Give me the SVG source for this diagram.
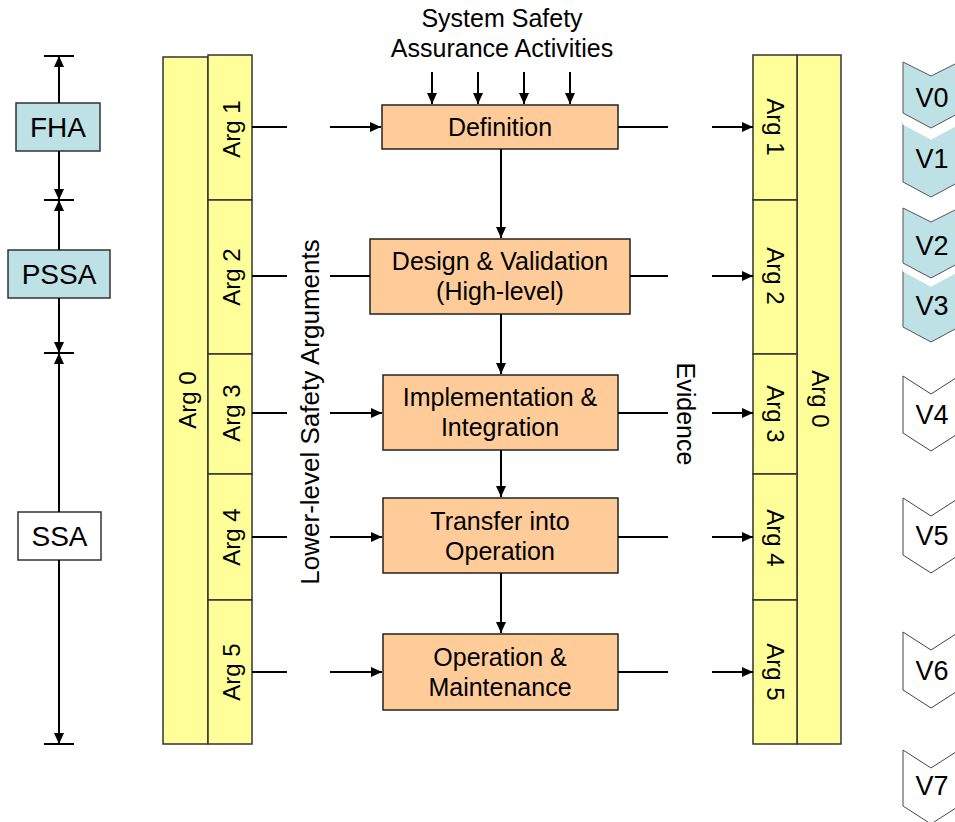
<svg xmlns="http://www.w3.org/2000/svg" width="955" height="822" viewBox="0 0 955 822">
  <style>
    text { font-family: "Liberation Sans", Arial, sans-serif; fill: #000; }
    .t25 { font-size: 25px; text-anchor: middle; }
    .t28 { font-size: 28px; text-anchor: middle; }
    .ver { font-size: 27px; text-anchor: middle; }
    .arg { font-size: 24px; text-anchor: middle; dominant-baseline: central; }
    .rot { font-size: 25px; text-anchor: middle; dominant-baseline: central; }
    .phase { fill: #BDE1E5; stroke: #333; stroke-width: 1.5; }
    .plain { fill: #fff; stroke: #333; stroke-width: 1.5; }
    .col { fill: #FFFF99; stroke: #333; stroke-width: 1.5; }
    .proc { fill: #FFCC99; stroke: #222; stroke-width: 1.5; }
    .ln { stroke: #000; stroke-width: 2; fill: none; }
    .arr { stroke: #000; stroke-width: 2; fill: none; marker-end: url(#ah); }
    .vchev { fill: #BDE1E5; stroke: #555; stroke-width: 1; }
    .vchev-w { fill: #fff; stroke: #444; stroke-width: 1; }
  </style>
  <defs>
    <marker id="ah" markerUnits="userSpaceOnUse" markerWidth="12" markerHeight="10" refX="11" refY="5" orient="auto">
      <path d="M0,0 L11,5 L0,10 z" fill="#000"/>
    </marker>
  </defs>

  <!-- safety assessment timeline -->
  <g id="timeline-ticks">
    <line class="ln" x1="44" y1="56" x2="74" y2="56"/>
    <line class="ln" x1="44" y1="200" x2="74" y2="200"/>
    <line class="ln" x1="44" y1="353" x2="74" y2="353"/>
    <line class="ln" x1="44" y1="744" x2="74" y2="744"/>
  </g>
  <g id="fha">
    <rect class="phase" x="16" y="103" width="84" height="48"/>
    <text class="t28" x="58" y="137">FHA</text>
  </g>
  <g id="pssa">
    <rect class="phase" x="8" y="250" width="102" height="48"/>
    <text class="t28" x="59" y="284">PSSA</text>
  </g>
  <g id="ssa">
    <rect class="plain" x="18" y="512" width="83" height="48"/>
    <text class="t28" x="59.5" y="546">SSA</text>
  </g>

  <!-- left argument columns -->
  <g id="left-arg0">
    <rect class="col" x="163" y="57" width="45" height="687"/>
    <text class="arg" transform="translate(187,400) rotate(-90)">Arg 0</text>
  </g>
  <g id="left-arg1">
    <rect class="col" x="208" y="55" width="44" height="145"/>
    <text class="arg" transform="translate(231,129) rotate(-90)">Arg 1</text>
  </g>
  <g id="left-arg2">
    <rect class="col" x="208" y="200" width="44" height="154"/>
    <text class="arg" transform="translate(231,277) rotate(-90)">Arg 2</text>
  </g>
  <g id="left-arg3">
    <rect class="col" x="208" y="354" width="44" height="120"/>
    <text class="arg" transform="translate(231,413) rotate(-90)">Arg 3</text>
  </g>
  <g id="left-arg4">
    <rect class="col" x="208" y="474" width="44" height="126"/>
    <text class="arg" transform="translate(231,537) rotate(-90)">Arg 4</text>
  </g>
  <g id="left-arg5">
    <rect class="col" x="208" y="600" width="44" height="144"/>
    <text class="arg" transform="translate(231,672) rotate(-90)">Arg 5</text>
  </g>

  <!-- right argument columns -->
  <g id="right-arg0">
    <rect class="col" x="797" y="55" width="44" height="689"/>
    <text class="arg" transform="translate(820,399) rotate(90)">Arg 0</text>
  </g>
  <g id="right-arg1">
    <rect class="col" x="753" y="55" width="44" height="145"/>
    <text class="arg" transform="translate(775,127) rotate(90)">Arg 1</text>
  </g>
  <g id="right-arg2">
    <rect class="col" x="753" y="200" width="44" height="154"/>
    <text class="arg" transform="translate(775,276) rotate(90)">Arg 2</text>
  </g>
  <g id="right-arg3">
    <rect class="col" x="753" y="354" width="44" height="120"/>
    <text class="arg" transform="translate(775,414) rotate(90)">Arg 3</text>
  </g>
  <g id="right-arg4">
    <rect class="col" x="753" y="474" width="44" height="126"/>
    <text class="arg" transform="translate(775,538) rotate(90)">Arg 4</text>
  </g>
  <g id="right-arg5">
    <rect class="col" x="753" y="600" width="44" height="144"/>
    <text class="arg" transform="translate(775,672) rotate(90)">Arg 5</text>
  </g>

  <!-- column captions -->
  <g id="caption-lower">
    <text class="rot" style="font-size:26px" transform="translate(310,412) rotate(-90)">Lower-level Safety Arguments</text>
  </g>
  <g id="caption-evidence">
    <text class="rot" transform="translate(686,414) rotate(90)">Evidence</text>
  </g>
  <g id="caption-activities">
    <text class="t25" x="502" y="27">System Safety</text>
    <text class="t25" x="502" y="57">Assurance Activities</text>
  </g>

  <!-- lifecycle phases -->
  <g id="definition">
    <rect class="proc" x="382" y="105" width="236" height="44"/>
    <text class="t25" x="500" y="136">Definition</text>
  </g>
  <g id="design">
    <rect class="proc" x="370" y="239" width="260" height="75"/>
    <text class="t25" x="500" y="270">Design &amp; Validation</text>
    <text class="t25" x="500" y="300">(High-level)</text>
  </g>
  <g id="implementation">
    <rect class="proc" x="383" y="375" width="235" height="75"/>
    <text class="t25" x="500" y="406">Implementation &amp;</text>
    <text class="t25" x="500" y="436">Integration</text>
  </g>
  <g id="transfer">
    <rect class="proc" x="383" y="498" width="235" height="75"/>
    <text class="t25" x="500" y="530">Transfer into</text>
    <text class="t25" x="500" y="560">Operation</text>
  </g>
  <g id="operation">
    <rect class="proc" x="383" y="634" width="235" height="76"/>
    <text class="t25" x="500" y="666">Operation &amp;</text>
    <text class="t25" x="500" y="696">Maintenance</text>
  </g>

  <!-- version chevrons -->
  <g id="v0">
    <polygon class="vchev" points="903,62 931,76 959,62 959,113 931,128 903,113"/>
    <text class="ver" x="932" y="107">V0</text>
  </g>
  <g id="v1">
    <polygon class="vchev" points="903,123 931,138 959,123 959,182 931,197 903,182"/>
    <polyline points="903,123 931,138 959,123" fill="none" stroke="#fff" stroke-width="3"/>
    <text class="ver" x="932" y="168">V1</text>
  </g>
  <g id="v2">
    <polygon class="vchev" points="903,208 931,222 959,208 959,263 931,278 903,263"/>
    <text class="ver" x="932" y="255">V2</text>
  </g>
  <g id="v3">
    <polygon class="vchev" points="903,270 931,285 959,270 959,327 931,342 903,327"/>
    <polyline points="903,270 931,285 959,270" fill="none" stroke="#fff" stroke-width="3"/>
    <text class="ver" x="932" y="315">V3</text>
  </g>
  <g id="v4">
    <polygon class="vchev-w" points="903,376 931,394 959,376 959,433 931,451 903,433"/>
    <text class="ver" x="932" y="424">V4</text>
  </g>
  <g id="v5">
    <polygon class="vchev-w" points="903,498 931,516 959,498 959,555 931,573 903,555"/>
    <text class="ver" x="932" y="545">V5</text>
  </g>
  <g id="v6">
    <polygon class="vchev-w" points="903,632 931,650 959,632 959,690 931,708 903,690"/>
    <text class="ver" x="932" y="680">V6</text>
  </g>
  <g id="v7">
    <polygon class="vchev-w" points="903,750 931,768 959,750 959,806 931,824 903,806"/>
    <text class="ver" x="932" y="795">V7</text>
  </g>

  <g id="connectors">
    <!-- timeline spans -->
    <line class="arr" x1="59" y1="103" x2="59" y2="56"/>
    <line class="arr" x1="59" y1="151" x2="59" y2="200"/>
    <line class="arr" x1="59" y1="250" x2="59" y2="200"/>
    <line class="arr" x1="59" y1="298" x2="59" y2="353"/>
    <line class="arr" x1="59" y1="512" x2="59" y2="353"/>
    <line class="arr" x1="59" y1="560" x2="59" y2="744"/>

    <!-- assurance activity inputs -->
    <line class="arr" x1="432" y1="72" x2="432" y2="104"/>
    <line class="arr" x1="478" y1="72" x2="478" y2="104"/>
    <line class="arr" x1="524" y1="72" x2="524" y2="104"/>
    <line class="arr" x1="570" y1="72" x2="570" y2="104"/>

    <!-- phase sequence -->
    <line class="arr" x1="501" y1="149" x2="501" y2="238"/>
    <line class="arr" x1="501" y1="314" x2="501" y2="374"/>
    <line class="arr" x1="501" y1="450" x2="501" y2="497"/>
    <line class="arr" x1="501" y1="573" x2="501" y2="633"/>

    <!-- lower-level arguments into phases -->
    <line class="ln" x1="252" y1="127" x2="287" y2="127"/>
    <line class="arr" x1="330" y1="127" x2="381" y2="127"/>
    <line class="ln" x1="252" y1="276" x2="287" y2="276"/>
    <line class="ln" x1="330" y1="276" x2="370" y2="276"/>
    <line class="ln" x1="252" y1="413" x2="287" y2="413"/>
    <line class="arr" x1="330" y1="413" x2="382" y2="413"/>
    <line class="ln" x1="252" y1="537" x2="287" y2="537"/>
    <line class="arr" x1="330" y1="537" x2="382" y2="537"/>
    <line class="ln" x1="252" y1="672" x2="287" y2="672"/>
    <line class="arr" x1="330" y1="672" x2="382" y2="672"/>

    <!-- phase evidence into arguments -->
    <line class="ln" x1="618" y1="127" x2="668" y2="127"/>
    <line class="arr" x1="712" y1="127" x2="753" y2="127"/>
    <line class="ln" x1="630" y1="276" x2="668" y2="276"/>
    <line class="arr" x1="712" y1="276" x2="753" y2="276"/>
    <line class="ln" x1="618" y1="413" x2="668" y2="413"/>
    <line class="arr" x1="712" y1="413" x2="753" y2="413"/>
    <line class="ln" x1="618" y1="537" x2="668" y2="537"/>
    <line class="arr" x1="712" y1="537" x2="753" y2="537"/>
    <line class="ln" x1="618" y1="672" x2="668" y2="672"/>
    <line class="arr" x1="712" y1="672" x2="753" y2="672"/>
  </g>
</svg>
